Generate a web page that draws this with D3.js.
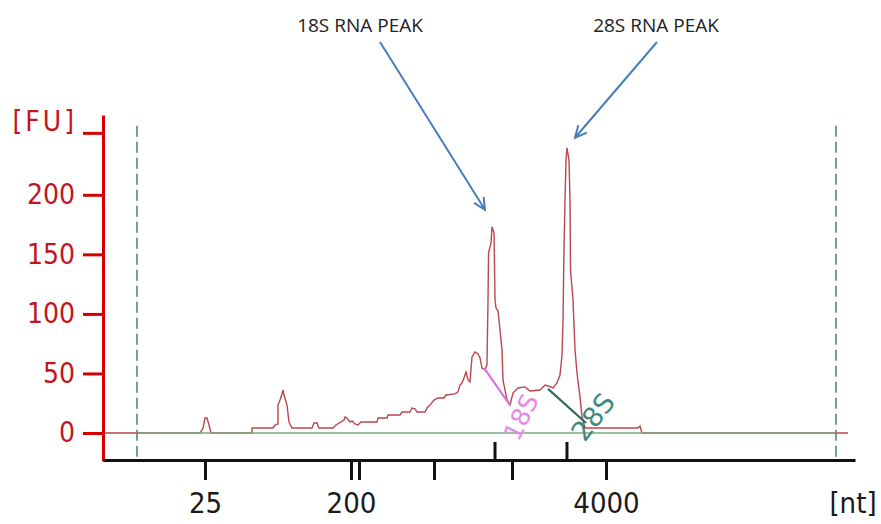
<html>

<head>
  <script src="https://d3js.org/d3.v7.min.js"></script>
  <style>
    body { margin: 0; background: white; }
    .ylab text { font-family: "DejaVu Sans Condensed", "DejaVu Sans", sans-serif; font-size: 28px; fill: #c3161c; }
    .xlab text { font-family: "DejaVu Sans Condensed", "DejaVu Sans", sans-serif; font-size: 29px; fill: #1a1a1a; }
    .note { font-family: "Open Sans", sans-serif; font-size: 19px; fill: #222; }
  </style>
</head>

<body>
  <svg id="chart" width="881" height="524"></svg>

  <script>
    // migration time (arbitrary units) and fluorescence of the trace
    const traceTime = [0, 12.9, 13.3, 13.56, 13.83, 14.1, 14.36, 19.81, 19.81, 22.61, 22.87, 23.27, 23.27, 23.54, 23.8, 23.94,
      24.07, 24.47, 24.73, 25.13, 27.79, 28.06, 28.46, 28.72, 30.59, 30.98, 32.05, 32.18, 32.45, 32.85, 33.11, 33.51,
      33.91, 34.31, 36.44, 36.57, 37.77, 37.9, 39.49, 39.76, 40.82, 41.09, 41.49, 41.76, 42.82, 43.09, 43.48, 44.02,
      44.55, 45.35, 45.61, 46.81, 47.21, 47.47, 47.74, 48.0, 48.27, 48.54, 48.8, 49.07, 49.47, 49.87, 50.13, 50.4,
      50.8, 51.06, 51.2, 51.27, 51.6, 51.73, 52.0, 52.13, 52.26, 52.53, 53.06, 53.19, 53.72, 54.12, 54.52, 55.19,
      56.12, 56.78, 58.11, 58.78, 59.18, 59.84, 60.37, 60.77, 61.04, 61.17, 61.3, 61.44, 61.57, 61.7, 61.97, 62.1,
      62.17, 62.5, 62.77, 63.03, 63.43, 63.7, 64.1, 71.14, 71.41, 71.68, 99.07];
    const traceFU = [0, 0, 4.2, 12.6, 12.6, 6.7, 0, 0, 4.2, 4.2, 6.7, 7.6, 23.5, 27.7, 32.8, 36.1,
      31.9, 23.5, 9.2, 4.2, 4.2, 8.4, 8.4, 4.2, 4.2, 6.7, 10.9, 13.4, 12.6, 9.2, 10.1, 7.6,
      6.7, 9.2, 9.2, 12.6, 12.6, 15.1, 15.1, 17.6, 17.6, 21.0, 20.2, 17.6, 17.6, 21.0, 23.5, 27.7,
      29.4, 29.4, 31.9, 32.8, 34.5, 40.3, 42.0, 46.2, 51.3, 44.5, 42.9, 63.9, 68.1, 66.4, 63.0, 54.6,
      52.9, 57.1, 111.8, 151.3, 159.7, 173.1, 168.1, 111.8, 105.0, 102.5, 69.7, 44.5, 27.7, 23.5, 33.6, 37.8,
      38.7, 35.3, 36.1, 40.3, 39.5, 37.8, 42.0, 48.7, 65.5, 95.0, 153.8, 195.8, 229.4, 239.5, 229.4, 195.8,
      137.0, 111.8, 69.7, 50.4, 30.3, 13.4, 4.2, 4.2, 5.9, 0, 0];

    const fuTicks = [0, 50, 100, 150, 200, 252];
    const fuLabels = ["0", "50", "100", "150", "200", "[FU]"];
    const ntTicks = [13.56, 32.98, 34.04, 44.02, 54.39, 66.89];
    const ntLabels = ["25", "200", "", "", "", "4000"];
    const markerTicks = [52.13, 61.7];
    const gateTimes = [4.52, 97.47];
    const baselineRange = [4.52, 97.47];

    // peak markers: start/end of the fitted baseline line under each peak
    const markerNames = ["18S", "28S"];
    const markerStart = [[50.66, 54.6], [59.18, 37.0]];
    const markerEnd = [[54.12, 23.5], [64.23, 8.4]];
    const markerColors = ["#e070e0", "#2f6a5e"];
    const markerTextColors = ["#e48ae4", "#3d8a7e"];

    const noteNames = ["18S RNA PEAK", "28S RNA PEAK"];
    const notePeakTimes = [51.73, 61.7];

    const svg = d3.select("#chart");
    const x = d3.scaleLinear().domain([0, 100]).range([103, 855]);
    const y = d3.scaleLinear().domain([-23.5, 267]).range([461, 115]);

    // gate lines
    svg.selectAll("line.gate").data(gateTimes).join("line")
      .attr("class", "gate")
      .attr("x1", d => x(d)).attr("x2", d => x(d))
      .attr("y1", y(258)).attr("y2", y(-22.5))
      .attr("stroke", "#3f8a55").attr("stroke-width", 1.5)
      .attr("stroke-dasharray", "11,5");

    // trace
    const pts = traceTime.map((t, i) => [t, traceFU[i]]);
    const line = d3.line().x(d => x(d[0])).y(d => y(d[1]));
    svg.append("path").datum(pts)
      .attr("d", line)
      .attr("fill", "none")
      .attr("stroke", "#b8474f")
      .attr("stroke-width", 1.4);

    // baseline
    svg.append("line")
      .attr("x1", x(baselineRange[0])).attr("x2", x(baselineRange[1]))
      .attr("y1", y(0)).attr("y2", y(0))
      .attr("stroke", "#74ad78").attr("stroke-width", 1.6);

    // peak marker lines and labels
    markerNames.forEach((name, i) => {
      const s = markerStart[i], e = markerEnd[i];
      svg.append("line")
        .attr("x1", x(s[0])).attr("y1", y(s[1]))
        .attr("x2", x(e[0])).attr("y2", y(e[1]))
        .attr("stroke", markerColors[i]).attr("stroke-width", 2.2);
      const ang = i === 0 ? -64 : -52;
      const cx = x(e[0]) + (i === 0 ? 11 : 7);
      const cy = y(e[1]) + (i === 0 ? 12 : -6);
      svg.append("text")
        .attr("transform", `translate(${cx},${cy}) rotate(${ang})`)
        .attr("text-anchor", "middle").attr("dy", "0.35em")
        .style("font-family", "DejaVu Sans, sans-serif")
        .style("font-size", i === 0 ? "25px" : "27px")
        .style("fill", markerTextColors[i])
        .text(name);
    });

    // y axis
    const yAxis = d3.axisLeft(y)
      .tickValues(fuTicks)
      .tickFormat((d, i) => fuLabels[i])
      .tickSize(20).tickSizeOuter(0).tickPadding(8);
    const gy = svg.append("g").attr("class", "ylab")
      .attr("transform", "translate(103,0)")
      .call(yAxis);
    gy.select(".domain").attr("stroke", "#d40000").attr("stroke-width", 3);
    gy.selectAll(".tick line").attr("stroke", "#d40000").attr("stroke-width", 3);
    gy.selectAll(".tick text").filter((d, i) => i === fuTicks.length - 1)
      .attr("dy", "-0.1em").attr("x", -26).style("letter-spacing", "3px");

    // x axis
    const xAxis = d3.axisBottom(x)
      .tickValues(ntTicks)
      .tickFormat((d, i) => ntLabels[i])
      .tickSize(20).tickSizeOuter(0).tickPadding(12);
    const gx = svg.append("g").attr("class", "xlab")
      .attr("transform", "translate(0,460)")
      .call(xAxis);
    gx.select(".domain").attr("stroke", "#111").attr("stroke-width", 3);
    gx.selectAll(".tick line").attr("stroke", "#111").attr("stroke-width", 3);

    gx.selectAll("line.marker").data(markerTicks).join("line")
      .attr("class", "marker")
      .attr("x1", d => x(d)).attr("x2", d => x(d))
      .attr("y1", 0).attr("y2", -18)
      .attr("stroke", "#111").attr("stroke-width", 3);

    gx.append("text")
      .attr("x", 853).attr("y", 32).attr("dy", "0.71em")
      .attr("text-anchor", "middle")
      .text("[nt]");

    // annotations with arrows
    const arrowOffsets = [[-7, -17], [8, -10]];
    const textCenters = [360, 656];
    const arrowStarts = [380, 657];
    noteNames.forEach((name, i) => {
      svg.append("text").attr("class", "note")
        .attr("x", textCenters[i]).attr("y", 32)
        .attr("text-anchor", "middle")
        .text(name);
      const k = traceTime.indexOf(notePeakTimes[i]);
      const tx = x(traceTime[k]) + arrowOffsets[i][0];
      const ty = y(traceFU[k]) + arrowOffsets[i][1];
      const sx = arrowStarts[i], sy = 42;
      const a = Math.atan2(ty - sy, tx - sx);
      const hl = 13, ha = 0.45;
      svg.append("path")
        .attr("d", `M${sx},${sy}L${tx},${ty}` +
          `M${tx - hl * Math.cos(a - ha)},${ty - hl * Math.sin(a - ha)}L${tx},${ty}` +
          `L${tx - hl * Math.cos(a + ha)},${ty - hl * Math.sin(a + ha)}`)
        .attr("fill", "none")
        .attr("stroke", "#4a7ebb").attr("stroke-width", 2);
    });
  </script>
</body>

</html>
